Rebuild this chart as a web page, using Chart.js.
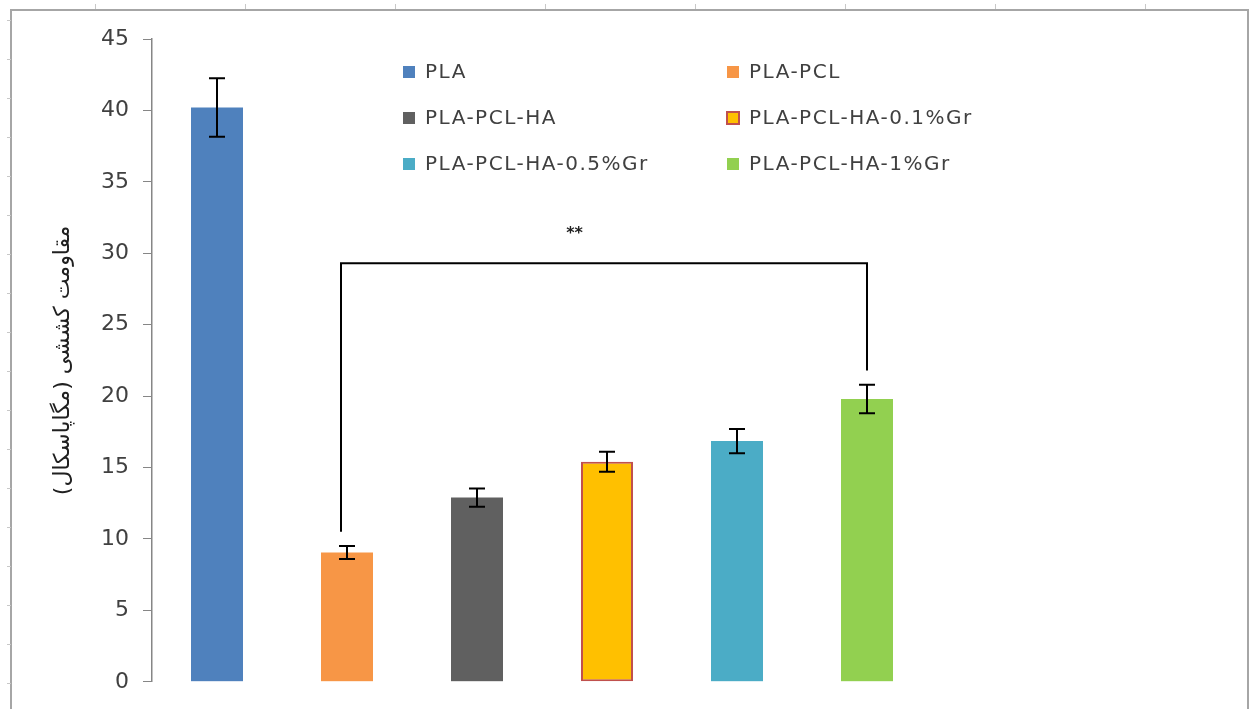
<!DOCTYPE html>
<html>
<head>
<meta charset="utf-8">
<title>Tensile strength</title>
<script src="https://cdn.jsdelivr.net/npm/chart.js@4.4.1/dist/chart.umd.min.js"></script>
<style>
    html, body { margin: 0; padding: 0; background: #fff; }
    #chartBox { width: 1251px; height: 709px; }
</style>
</head>
<body>
<div id="chartBox"><canvas id="strengthChart" width="1251" height="709"></canvas></div>
<script>
// Data
const categories = ['PLA', 'PLA-PCL', 'PLA-PCL-HA', 'PLA-PCL-HA-0.1%Gr', 'PLA-PCL-HA-0.5%Gr', 'PLA-PCL-HA-1%Gr'];
const strengthValues = [40.2, 9.05, 12.9, 15.4, 16.85, 19.8];
const errorValues = [2.05, 0.45, 0.64, 0.7, 0.85, 1.0];
const yTickMin = 0;
const yTickMax = 45;
const yTickStep = 5;
const yAxisTitle = 'مقاومت کششی (مگاپاسکال)';

// Significance bracket between PLA-PCL and PLA-PCL-HA-1%Gr
const bracketFrom = 1;
const bracketTo = 5;
const bracketLevel = 29.3;
const bracketLegEnds = [10.5, 21.8];
const bracketLabel = '**';

const barColors = ['#4f81bd', '#f79646', '#606060', '#ffc000', '#4bacc6', '#92d050'];
const barBorders = ['#4f81bd', '#f79646', '#606060', '#c0504d', '#4bacc6', '#92d050'];
const barBorderWidths = [0, 0, 0, 2, 0, 0];

const FONT = '"DejaVu Sans", Verdana, sans-serif';

// Sheet frame behind the chart (border + ruler ticks)
const framePlugin = {
    id: 'sheetFrame',
    beforeDraw(chart) {
        const ctx = chart.ctx;
        ctx.save();
        ctx.strokeStyle = '#a6a6a6';
        ctx.lineWidth = 2;
        ctx.strokeRect(11, 10, 1237, 720);
        ctx.strokeStyle = '#c8c8c8';
        ctx.lineWidth = 1;
        for (let x = 95; x < 1251; x += 150) {
            ctx.beginPath();
            ctx.moveTo(x + 0.5, 4);
            ctx.lineTo(x + 0.5, 9);
            ctx.stroke();
        }
        for (let y = 20; y < 709; y += 39) {
            ctx.beginPath();
            ctx.moveTo(7, y + 0.5);
            ctx.lineTo(11, y + 0.5);
            ctx.stroke();
        }
        ctx.restore();
    }
};

// Error bars and significance bracket
const errorBarPlugin = {
    id: 'errorBars',
    afterDatasetsDraw(chart) {
        const ctx = chart.ctx;
        const xs = chart.scales.x;
        const ys = chart.scales.y;
        ctx.save();
        ctx.strokeStyle = '#000';
        ctx.lineWidth = 2;
        strengthValues.forEach((v, i) => {
            const x = Math.round(xs.getPixelForValue(i));
            const top = ys.getPixelForValue(v + errorValues[i]);
            const bottom = ys.getPixelForValue(v - errorValues[i]);
            ctx.beginPath();
            ctx.moveTo(x, top);
            ctx.lineTo(x, bottom);
            ctx.moveTo(x - 8, top);
            ctx.lineTo(x + 8, top);
            ctx.moveTo(x - 8, bottom);
            ctx.lineTo(x + 8, bottom);
            ctx.stroke();
        });

        const x1 = Math.round(xs.getPixelForValue(bracketFrom)) - 6;
        const x2 = Math.round(xs.getPixelForValue(bracketTo));
        const yTop = ys.getPixelForValue(bracketLevel);
        ctx.beginPath();
        ctx.moveTo(x1, ys.getPixelForValue(bracketLegEnds[0]));
        ctx.lineTo(x1, yTop);
        ctx.lineTo(x2, yTop);
        ctx.lineTo(x2, ys.getPixelForValue(bracketLegEnds[1]));
        ctx.stroke();

        ctx.fillStyle = '#222';
        ctx.font = 'bold 16px ' + FONT;
        ctx.textAlign = 'center';
        ctx.textBaseline = 'middle';
        ctx.fillText(bracketLabel, xs.getPixelForValue(2.75), yTop - 29);
        ctx.restore();
    }
};

// Two-column legend laid over the plot
const legendPlugin = {
    id: 'gridLegend',
    afterDraw(chart) {
        const ctx = chart.ctx;
        const colX = [403, 727];
        const rowY = [72, 118, 164];
        ctx.save();
        ctx.font = '20px ' + FONT;
        ctx.letterSpacing = '1.5px';
        ctx.textBaseline = 'middle';
        ctx.textAlign = 'left';
        categories.forEach((name, i) => {
            const x = colX[i % 2];
            const y = rowY[Math.floor(i / 2)];
            ctx.fillStyle = barColors[i];
            ctx.fillRect(x, y - 6, 12, 12);
            if (barBorderWidths[i] > 0) {
                ctx.strokeStyle = barBorders[i];
                ctx.lineWidth = 2;
                ctx.strokeRect(x, y - 6, 12, 12);
            }
            ctx.fillStyle = '#404040';
            ctx.fillText(name, x + 22, y + 1);
        });
        ctx.restore();
    }
};

function initializeChart() {
    const ctx = document.getElementById('strengthChart');
    if (!ctx) return;

    const config = {
        type: 'bar',
        data: {
            labels: categories,
            datasets: [{
                label: 'Tensile strength',
                data: strengthValues,
                backgroundColor: barColors,
                borderColor: barBorders,
                borderWidth: barBorderWidths,
                borderSkipped: false,
                barPercentage: 0.4,
                categoryPercentage: 1.0
            }]
        },
        options: {
            responsive: false,
            animation: false,
            layout: {
                padding: { left: 0, top: 39, right: 319, bottom: 21 }
            },
            plugins: {
                legend: { display: false },
                tooltip: { enabled: false }
            },
            scales: {
                x: {
                    display: false,
                    grid: { display: false }
                },
                y: {
                    min: yTickMin,
                    max: yTickMax,
                    afterFit: function(scale) {
                        scale.width = 152;
                    },
                    ticks: {
                        stepSize: yTickStep,
                        color: '#404040',
                        padding: 14,
                        font: { family: FONT, size: 22 }
                    },
                    grid: {
                        drawOnChartArea: false,
                        tickLength: 9,
                        color: '#868686'
                    },
                    border: {
                        color: '#868686',
                        width: 1.5
                    },
                    title: {
                        display: true,
                        text: yAxisTitle,
                        color: '#202020',
                        font: { family: FONT, size: 22 },
                        padding: { top: 50, bottom: 0 }
                    }
                }
            }
        },
        plugins: [framePlugin, errorBarPlugin, legendPlugin]
    };

    new Chart(ctx, config);
}

document.addEventListener('DOMContentLoaded', initializeChart);
</script>
</body>
</html>
